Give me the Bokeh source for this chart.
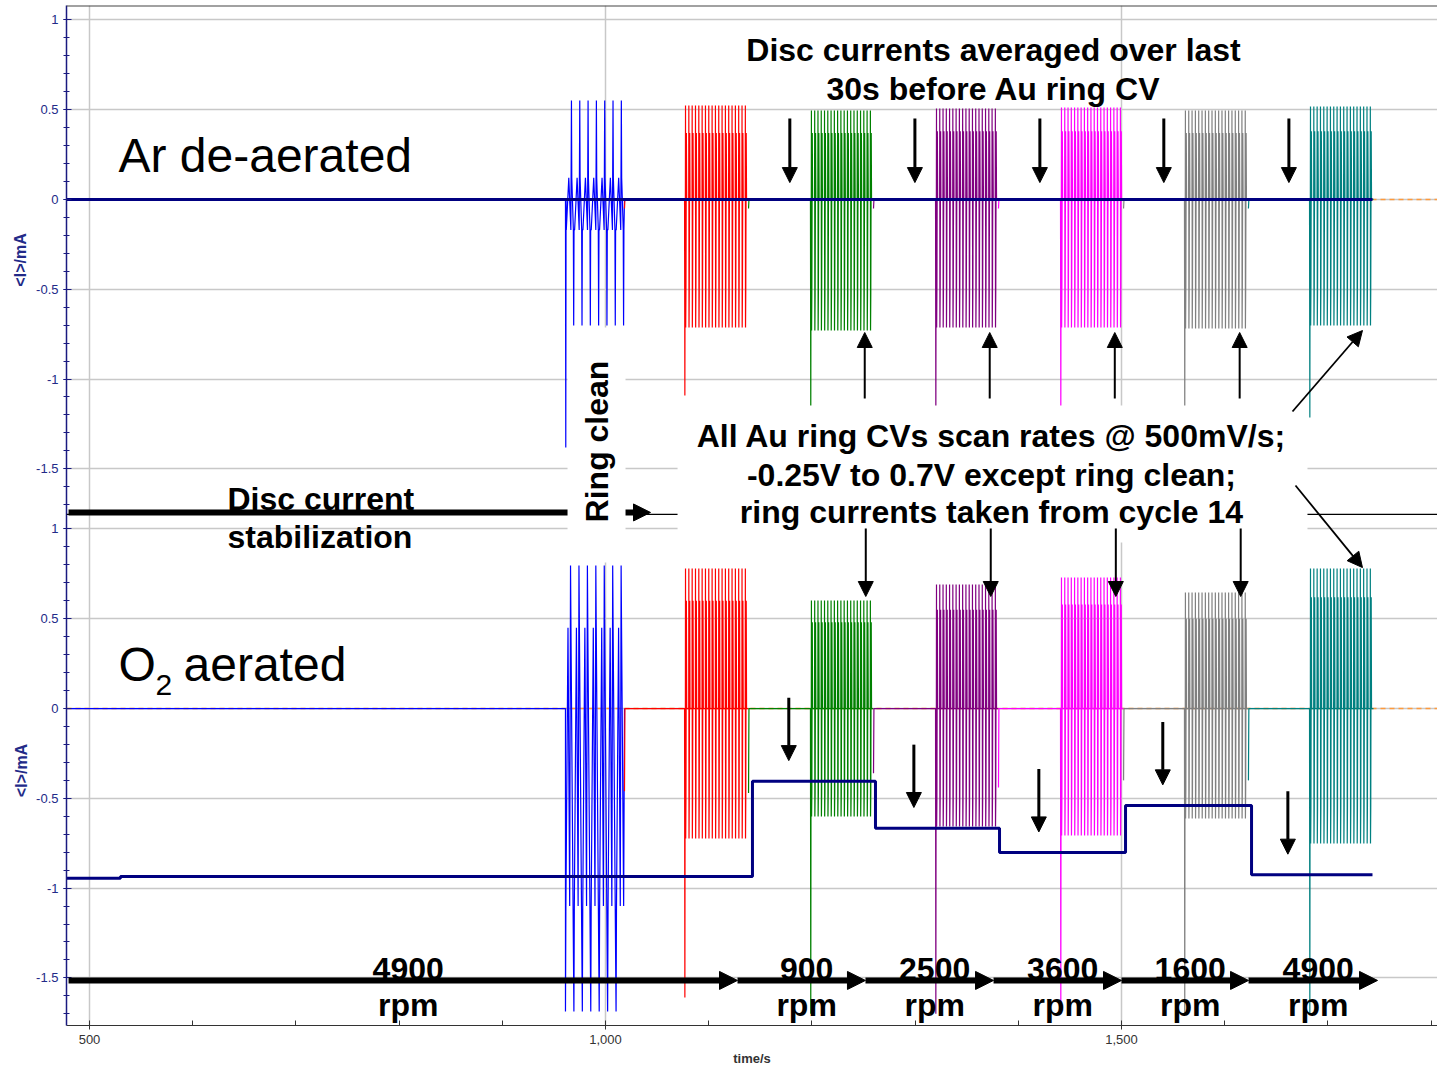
from bokeh.plotting import figure
from bokeh.models import (Range1d, FixedTicker, NumeralTickFormatter, Label, Arrow,
                          NormalHead, BoxAnnotation, Span, LinearAxis)
from bokeh.embed import file_html
from bokeh.resources import INLINE

FONT = "Liberation Sans"

# ---------------------------------------------------------------- data
# time axis (s)
T_MIN, T_MAX = 477.7, 1806.2

# ring CV bursts: ring clean + one CV set per rotation rate
SERIES_COLORS = ["#0000ff", "#ff0000", "#008000", "#800080", "#ff00ff", "#808080", "#008080"]
BURST_T0 = [961.2, 1076.6, 1198.6, 1319.8, 1440.9, 1561.0, 1682.2]
BURST_T1 = [1018.4, 1138.6, 1259.7, 1380.8, 1502.0, 1623.0, 1744.2]
N_CYCLES = [7, 19, 19, 19, 19, 19, 19]

# Ar de-aerated ring currents (mA): cycle max / min, mid band, first-sweep transient
AR_HI = [0.551, 0.523, 0.495, 0.506, 0.512, 0.495, 0.518]
AR_LO = [-0.702, -0.713, -0.730, -0.713, -0.713, -0.719, -0.702]
AR_MHI = [0.12, 0.37, 0.37, 0.38, 0.38, 0.37, 0.38]
AR_MLO = [-0.17, -0.50, -0.52, -0.50, -0.50, -0.50, -0.50]
AR_DIP = [-1.381, -1.092, -1.20, -1.20, -1.20, -1.20, -1.214]
AR_TAIL = [0.0, -0.05, -0.05, -0.05, -0.05, -0.05, -0.05]

# O2 aerated ring currents (mA)
O2_HI = [0.797, 0.780, 0.602, 0.691, 0.730, 0.646, 0.780]
O2_LO = [-1.687, -0.724, -0.601, -0.657, -0.707, -0.612, -0.752]
O2_MHI = [0.45, 0.60, 0.48, 0.55, 0.58, 0.50, 0.62]
O2_MLO = [-1.10, -0.50, -0.47, -0.50, -0.52, -0.45, -0.55]
O2_DIP = [None, -1.609, -1.70, -1.70, -1.70, -1.70, -1.70]
O2_TAIL = [0.0, -0.46, -0.47, -0.36, -0.44, -0.40, -0.40]

# disc current steps (mA)
DISC_T = [477.7, 530.0, 1142.4, 1261.6, 1381.8, 1503.9, 1626.0]
DISC_END = 1743.2
AR_DISC = [0.0, 0.0, 0.0, 0.0, 0.0, 0.0, 0.0]
O2_DISC = [-0.945, -0.935, -0.405, -0.666, -0.802, -0.540, -0.926]

# rotation schedule
RPM_T = [479.7, 1127.9, 1251.9, 1376.0, 1500.0, 1623.1, 1748.1]
RPM = ["4900", "900", "2500", "3600", "1600", "4900"]

# y ticks of each panel
Y_TICKS = [-1.5, -1.0, -0.5, 0.0, 0.5, 1.0]
Y_TICK_TEXT = ["-1.5", "-1", "-0.5", "0", "0.5", "1"]
Y_MINOR = [round(-1.7 + 0.1 * i, 1) for i in range(28)]
X_TICKS = [500, 1000, 1500]
X_MINOR = [600, 700, 800, 900, 1100, 1200, 1300, 1400, 1600, 1700, 1800]

# ---------------------------------------------------------------- layout of the two panels
Y_MAX = 1.08          # top of upper panel
Y_MIN = -4.60         # bottom of lower panel (upper panel units)
OFFSET = 2.835        # shift between lower and upper panel zero lines
PANEL_SPLIT = -1.754  # panel boundary (upper panel units)
TITLE_POS = [-0.337, -3.18]   # vertical centres of the two panels (upper panel units)

# one CV cycle as (phase, level) pairs
SHAPE_CV = [(0.0, "z"), (0.04, "hi"), (0.09, "lo"), (0.17, "mlo"), (0.30, "mhi"), (0.40, "z")]
SHAPE_CLEAN_AR = [(0.0, "mlo"), (0.3, "mhi"), (0.55, "mlo"), (0.62, "hi"), (0.66, "mhi"),
                  (0.85, "mlo"), (0.89, "lo"), (0.93, "mlo")]
SHAPE_CLEAN_O2 = [(0.0, "lo"), (0.05, "mlo"), (0.3, "mhi"), (0.5, "mlo"), (0.6, "hi"),
                  (0.65, "mhi"), (0.9, "mlo")]


def ring_trace(k, hi, lo, mhi, mlo, dip, tail, shape):
    t_start = T_MIN if k == 0 else BURST_T1[k - 1]
    xs = [t_start, t_start + 0.4]
    ys = [tail, 0.0]
    t0, t1, n = BURST_T0[k], BURST_T1[k], N_CYCLES[k]
    xs.append(t0)
    ys.append(0.0)
    c0 = t0
    if dip is not None:
        xs += [t0 + 0.3, t0 + 0.6]
        ys += [dip, 0.0]
        c0 = t0 + 0.8
    period = (t1 - c0) / n
    levels = {"z": 0.0, "hi": hi, "lo": lo, "mhi": mhi, "mlo": mlo}
    for c in range(n):
        for ph, key in shape:
            xs.append(c0 + (c + ph) * period)
            ys.append(levels[key])
    xs.append(t1)
    ys.append(0.0)
    return xs, ys


p = figure(width=1437, height=1069, x_range=Range1d(T_MIN, T_MAX),
           y_range=Range1d(Y_MIN, Y_MAX), output_backend="svg", toolbar_location=None,
           min_border_left=66, min_border_right=0, min_border_top=5, min_border_bottom=44,
           background_fill_color="white", border_fill_color="white", outline_line_color=None)
p.extra_y_ranges = {"bot": Range1d(Y_MIN + OFFSET, Y_MAX + OFFSET)}

# ---------------------------------------------------------------- axes and grid
ticks_all = Y_TICKS + [round(v - OFFSET, 4) for v in Y_TICKS]
minor_all = Y_MINOR + [round(v - OFFSET, 4) for v in Y_MINOR]
yax = p.yaxis[0]
yax.ticker = FixedTicker(ticks=ticks_all, minor_ticks=minor_all)
yax.major_label_overrides = {t: s for t, s in zip(ticks_all, Y_TICK_TEXT * 2)}
yax.axis_line_color = "#1a1a80"
yax.axis_line_width = 1.5
yax.major_tick_line_color = "#1a1a80"
yax.minor_tick_line_color = "#1a1a80"
yax.major_tick_in = 5
yax.major_tick_out = 3
yax.minor_tick_in = 3
yax.minor_tick_out = 3
yax.major_label_standoff = 5
yax.major_label_text_color = "#222a88"
yax.major_label_text_font = FONT
yax.major_label_text_font_size = "13px"

# "<I>/mA" title of each panel, written as rotated tick labels of an outer axis
title_ax = LinearAxis(ticker=FixedTicker(ticks=TITLE_POS),
                      major_label_overrides={t: "<I>/mA" for t in TITLE_POS},
                      major_label_orientation="vertical", major_label_standoff=4,
                      major_label_text_font=FONT, major_label_text_font_size="16px",
                      major_label_text_font_style="bold", major_label_text_color="#222a88",
                      axis_line_color=None, major_tick_line_color=None,
                      minor_tick_line_color=None, major_tick_in=0, major_tick_out=0)
p.add_layout(title_ax, "left")

xax = p.xaxis[0]
xax.ticker = FixedTicker(ticks=X_TICKS, minor_ticks=X_MINOR)
xax.formatter = NumeralTickFormatter(format="0,0")
xax.axis_line_color = "#333333"
xax.major_tick_line_color = "#333333"
xax.minor_tick_line_color = "#333333"
xax.major_tick_in = 5
xax.major_tick_out = 4
xax.minor_tick_in = 5
xax.minor_tick_out = 0
xax.major_label_standoff = 5
xax.major_label_text_color = "#333333"
xax.major_label_text_font = FONT
xax.major_label_text_font_size = "13px"
xax.axis_label = "time/s"
xax.axis_label_text_font = FONT
xax.axis_label_text_font_size = "13px"
xax.axis_label_text_font_style = "bold"
xax.axis_label_text_color = "#333333"
xax.axis_label_standoff = 4

p.ygrid.ticker = FixedTicker(ticks=ticks_all)
p.xgrid.ticker = FixedTicker(ticks=X_TICKS)
for g in (p.xgrid[0], p.ygrid[0]):
    g.grid_line_color = "#c8c8c8"
    g.grid_line_width = 1.5

# ---------------------------------------------------------------- traces
# background reference trace at zero
p.line([T_MIN, T_MAX], [0.0, 0.0], line_color="#ff9a3c", line_width=1.4, line_dash="5 4")
p.line([T_MIN, T_MAX], [0.0, 0.0], line_color="#ff9a3c", line_width=1.4, line_dash="5 4",
       y_range_name="bot")

for k, col in enumerate(SERIES_COLORS):
    shape_ar = SHAPE_CLEAN_AR if k == 0 else SHAPE_CV
    shape_o2 = SHAPE_CLEAN_O2 if k == 0 else SHAPE_CV
    xs, ys = ring_trace(k, AR_HI[k], AR_LO[k], AR_MHI[k], AR_MLO[k], AR_DIP[k], AR_TAIL[k], shape_ar)
    p.line(xs, ys, line_color=col, line_width=1.2)
    xs, ys = ring_trace(k, O2_HI[k], O2_LO[k], O2_MHI[k], O2_MLO[k], O2_DIP[k], O2_TAIL[k], shape_o2)
    p.line(xs, ys, line_color=col, line_width=1.2, y_range_name="bot")

p.step(DISC_T + [DISC_END], AR_DISC + [AR_DISC[-1]], mode="after",
       line_color="#000080", line_width=3)
p.step(DISC_T + [DISC_END], O2_DISC + [O2_DISC[-1]], mode="after",
       line_color="#000080", line_width=3, y_range_name="bot")

# ---------------------------------------------------------------- frame lines
p.add_layout(Span(location=Y_MAX, dimension="width", line_color="#444444", line_width=2))
p.add_layout(Span(location=PANEL_SPLIT, dimension="width", line_color="black", line_width=1.2))


# ---------------------------------------------------------------- thick arrows
def add_arrow(x0, y0, x1, y1, width, head, yr="default"):
    p.add_layout(Arrow(x_start=x0, y_start=y0, x_end=x1, y_end=y1, line_width=width,
                       line_color="black", y_range_name=yr,
                       end=NormalHead(size=head, fill_color="black", line_color="black",
                                      line_width=1)))


add_arrow(479.7, -1.743, 1043.6, -1.743, 6, 17)
for a, b in zip(RPM_T[:-1], RPM_T[1:]):
    add_arrow(a, -1.514, b, -1.514, 6, 18, "bot")

# white text boxes
p.add_layout(BoxAnnotation(left=963.2, right=1019.4, top=-0.713, bottom=-2.022,
                           fill_color="white", fill_alpha=1.0, line_color=None))
p.add_layout(BoxAnnotation(left=1069.8, right=1680.2, top=-1.147, bottom=-1.910,
                           fill_color="white", fill_alpha=1.0, line_color=None))

# ---------------------------------------------------------------- small arrows
for k in range(2, 7):
    add_arrow(BURST_T0[k] - 20, 0.451, BURST_T0[k] - 20, 0.094, 3, 15)
    lvl = O2_DISC[k]
    add_arrow(BURST_T0[k] - 21, lvl + 0.465, BURST_T0[k] - 21, lvl + 0.115, 3, 15, "bot")
for k in range(2, 6):
    add_arrow(BURST_T1[k] - 8.5, -1.108, BURST_T1[k] - 8.5, -0.741, 2, 15)
    add_arrow(BURST_T1[k] - 7.5, 1.003, BURST_T1[k] - 7.5, 0.624, 2, 15, "bot")
add_arrow(1665.7, -1.181, 1733.5, -0.730, 1.8, 15)
add_arrow(1668.6, 1.242, 1733.5, 0.785, 1.8, 15, "bot")


# ---------------------------------------------------------------- texts
def add_text(x, y, text, size, bold=True, align="left", yr="default", angle=0.0,
             baseline="alphabetic", color="black"):
    p.add_layout(Label(x=x, y=y, text=text, text_font=FONT, text_font_size=size,
                       text_font_style="bold" if bold else "normal", text_align=align,
                       text_baseline=baseline, text_color=color, angle=angle,
                       y_range_name=yr))


add_text(528.1, 0.244, "Ar de-aerated", "48px", bold=False)
add_text(528.1, 0.245, "O", "48px", bold=False, yr="bot")
add_text(564.0, 0.129, "2", "30px", bold=False, yr="bot")
add_text(591.1, 0.245, "aerated", "48px", bold=False, yr="bot")

add_text(1376.0, 0.832, "Disc currents averaged over last", "32px", align="center")
add_text(1376.0, 0.615, "30s before Au ring CV", "32px", align="center")

add_text(633.7, -1.668, "Disc current", "32px")
add_text(633.7, -1.880, "stabilization", "32px")

add_text(992.2, -1.348, "Ring clean", "32px", align="center", angle=1.5708, baseline="middle")

add_text(1374.0, -1.317, "All Au ring CVs scan rates @ 500mV/s;", "32px", align="center")
add_text(1374.0, -1.534, "-0.25V to 0.7V except ring clean;", "32px", align="center")
add_text(1374.0, -1.741, "ring currents taken from cycle 14", "32px", align="center")

for a, b, r in zip(RPM_T[:-1], RPM_T[1:], RPM):
    add_text((a + b) / 2 + 5, -1.453, r, "32px", align="center", yr="bot")
    add_text((a + b) / 2 + 5, -1.652, "rpm", "32px", align="center", yr="bot")

open("out.html", "w").write(file_html(p, INLINE))
